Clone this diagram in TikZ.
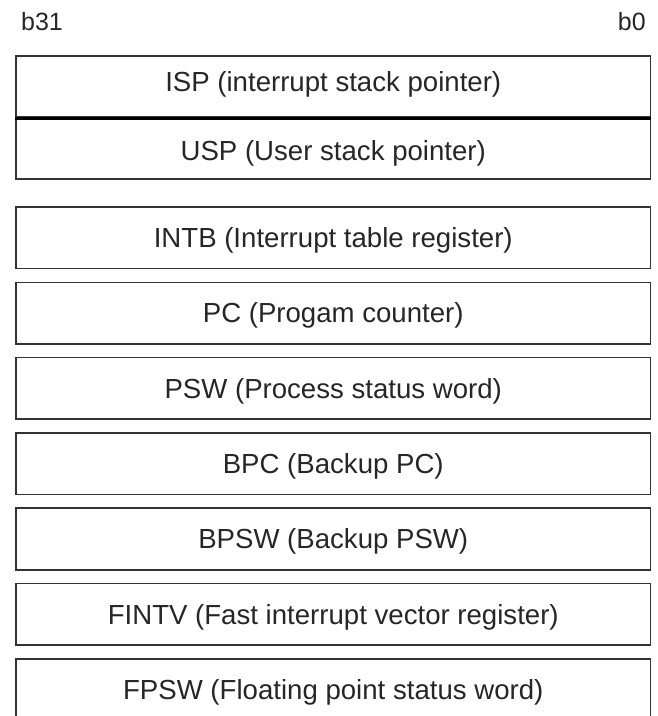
\documentclass[tikz,border=0pt]{standalone}
\usepackage{fontspec}
\setmainfont{Liberation Sans}
\begin{document}
\begin{tikzpicture}[x=1pt, y=-1pt,
    reg/.style={draw=black!80, line width=1.6pt, minimum width=634.5pt,
      minimum height=61.5pt, inner sep=0pt, text=black!85,
      font=\fontsize{27.6}{30}\selectfont, text height=19.8pt, text depth=0pt},
    bitlabel/.style={inner sep=0pt, text=black!85, font=\fontsize{25}{28}\selectfont}]
  \useasboundingbox (0,0) rectangle (658,716);

  % bit numbers above the registers
  \node[bitlabel, anchor=west] (msb) at (21, 22) {b31};
  \node[bitlabel, anchor=east] (lsb) at (646, 22) {b0};

  % the two stack pointers share one box
  \node[reg, text depth=10pt] (isp) at (333.25, 87) {ISP (interrupt stack pointer)};
  \node[reg, text height=25.8pt] (usp) at (333.25, 148) {USP (User stack pointer)};
  \draw[line width=3pt] (isp.south west) -- (isp.south east);

  % the other control registers
  \foreach \name/\txt [count=\i from 0] in {
      intb/INTB (Interrupt table register),
      pc/PC (Progam counter),
      psw/PSW (Process status word),
      bpc/BPC (Backup PC),
      bpsw/BPSW (Backup PSW),
      fintv/FINTV (Fast interrupt vector register),
      fpsw/FPSW (Floating point status word)} {
    \node[reg] (\name) at (333.25, {237.75+75.3*\i}) {\txt};
  }
\end{tikzpicture}
\end{document}
